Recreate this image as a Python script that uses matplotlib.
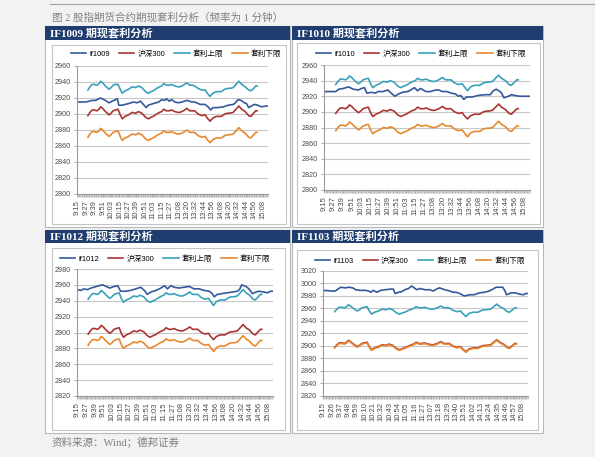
import matplotlib
matplotlib.use('Agg')
import matplotlib.pyplot as plt
from matplotlib.patches import Rectangle
from matplotlib.lines import Line2D

W, H = 595, 457

# x tick labels (1-minute bars, labelled every 12 / 11 bars)
ticks_12 = ['9:15', '9:27', '9:39', '9:51', '10:03', '10:15', '10:27', '10:39', '10:51',
            '11:03', '11:15', '11:27', '13:08', '13:20', '13:32', '13:44', '13:56',
            '14:08', '14:20', '14:32', '14:44', '14:56', '15:08']
ticks_11 = ['9:15', '9:26', '9:37', '9:48', '9:59', '10:10', '10:21', '10:32', '10:43',
            '10:54', '11:05', '11:16', '11:27', '13:07', '13:18', '13:29', '13:40',
            '13:51', '14:02', '14:13', '14:24', '14:35', '14:46', '14:57', '15:08']
n_bars = 272

# CSI 300 index (same for every contract) and the arbitrage bounds, sampled by bar index
hs_idx = [15, 18, 21, 24, 28, 31, 33, 36, 40, 45, 48, 51, 54, 58, 61, 64, 68, 73, 78, 83,
          87, 92, 97, 101, 105, 108, 113, 117, 120, 123, 127, 131, 134, 139, 143, 146, 151,
          156, 160, 164, 167, 172, 177, 182, 185, 189, 193, 198, 205, 210, 214, 217, 222,
          226, 230, 234, 239, 244, 247, 250, 254, 256]
hs300 = [2898, 2902, 2905, 2905, 2904, 2906, 2909, 2907, 2903, 2899, 2901, 2904, 2905, 2906,
         2899, 2894, 2897, 2899, 2902, 2901, 2903, 2901, 2896, 2894, 2896, 2897, 2900, 2902,
         2903, 2906, 2904, 2904, 2905, 2903, 2902, 2902, 2904, 2907, 2904, 2904, 2904, 2900,
         2898, 2899, 2895, 2891, 2895, 2897, 2897, 2900, 2901, 2901, 2902, 2906, 2910, 2906,
         2903, 2898, 2897, 2900, 2904, 2904]

up_1009 = [2930, 2934, 2937, 2937, 2936, 2938, 2941, 2939, 2935, 2931, 2933, 2936, 2937, 2937,
           2931, 2926, 2929, 2931, 2934, 2933, 2935, 2933, 2928, 2926, 2928, 2929, 2932, 2934,
           2935, 2938, 2936, 2936, 2937, 2935, 2934, 2934, 2936, 2939, 2936, 2936, 2935, 2932,
           2930, 2930, 2926, 2922, 2926, 2928, 2928, 2931, 2932, 2932, 2933, 2937, 2941, 2937,
           2934, 2930, 2929, 2931, 2935, 2935]
lo_1009 = [2871, 2875, 2878, 2878, 2877, 2879, 2882, 2880, 2876, 2872, 2874, 2877, 2878, 2879,
           2872, 2867, 2870, 2872, 2875, 2874, 2876, 2874, 2869, 2867, 2869, 2870, 2873, 2875,
           2876, 2879, 2877, 2877, 2878, 2876, 2875, 2875, 2877, 2880, 2877, 2877, 2877, 2873,
           2871, 2872, 2868, 2864, 2868, 2870, 2870, 2873, 2874, 2874, 2875, 2879, 2883, 2879,
           2876, 2871, 2870, 2873, 2877, 2877]
up_1010 = [2935, 2939, 2942, 2942, 2941, 2943, 2946, 2944, 2940, 2936, 2938, 2941, 2942, 2943,
           2936, 2931, 2934, 2936, 2939, 2938, 2940, 2938, 2933, 2931, 2933, 2934, 2937, 2939,
           2940, 2943, 2941, 2941, 2942, 2940, 2939, 2939, 2941, 2944, 2941, 2941, 2941, 2937,
           2935, 2936, 2932, 2927, 2932, 2934, 2934, 2937, 2938, 2938, 2939, 2943, 2947, 2943,
           2940, 2935, 2934, 2937, 2941, 2941]
lo_1010 = [2876, 2880, 2883, 2883, 2882, 2884, 2887, 2885, 2881, 2877, 2879, 2882, 2883, 2884,
           2877, 2872, 2875, 2877, 2880, 2879, 2881, 2879, 2874, 2872, 2874, 2875, 2878, 2880,
           2881, 2884, 2882, 2882, 2883, 2881, 2880, 2880, 2882, 2885, 2882, 2882, 2882, 2878,
           2876, 2877, 2873, 2868, 2873, 2875, 2875, 2878, 2879, 2879, 2880, 2884, 2888, 2884,
           2881, 2876, 2875, 2878, 2882, 2882]
up_1012 = [2942, 2946, 2949, 2949, 2948, 2950, 2953, 2951, 2947, 2943, 2945, 2948, 2949, 2950,
           2943, 2938, 2941, 2943, 2946, 2945, 2947, 2945, 2940, 2938, 2940, 2941, 2944, 2946,
           2947, 2950, 2948, 2948, 2949, 2947, 2946, 2946, 2948, 2951, 2948, 2948, 2948, 2944,
           2942, 2943, 2939, 2934, 2939, 2941, 2941, 2944, 2945, 2945, 2946, 2950, 2954, 2950,
           2947, 2942, 2941, 2944, 2948, 2948]
lo_1012 = [2884, 2888, 2891, 2891, 2890, 2892, 2895, 2893, 2889, 2885, 2887, 2890, 2891, 2892,
           2885, 2880, 2883, 2885, 2888, 2887, 2889, 2887, 2882, 2880, 2882, 2883, 2886, 2888,
           2889, 2892, 2890, 2890, 2891, 2889, 2888, 2888, 2890, 2893, 2890, 2890, 2890, 2886,
           2884, 2885, 2881, 2876, 2881, 2883, 2883, 2886, 2887, 2887, 2888, 2892, 2896, 2892,
           2889, 2884, 2883, 2886, 2890, 2890]
up_1103 = [2955, 2959, 2962, 2962, 2961, 2963, 2966, 2964, 2960, 2956, 2958, 2961, 2962, 2963,
           2956, 2951, 2954, 2956, 2959, 2958, 2960, 2958, 2953, 2951, 2953, 2954, 2957, 2959,
           2960, 2963, 2961, 2961, 2962, 2960, 2959, 2959, 2961, 2964, 2961, 2961, 2961, 2957,
           2955, 2956, 2952, 2947, 2952, 2954, 2954, 2957, 2958, 2958, 2959, 2963, 2967, 2963,
           2960, 2955, 2954, 2957, 2961, 2961]
lo_1103 = [2897, 2901, 2904, 2904, 2903, 2905, 2908, 2906, 2902, 2898, 2900, 2903, 2904, 2905,
           2898, 2893, 2896, 2898, 2901, 2900, 2902, 2900, 2895, 2893, 2895, 2896, 2899, 2901,
           2902, 2905, 2903, 2903, 2904, 2902, 2901, 2901, 2903, 2906, 2903, 2903, 2903, 2899,
           2897, 2898, 2894, 2890, 2894, 2896, 2896, 2899, 2900, 2900, 2901, 2905, 2909, 2905,
           2902, 2897, 2896, 2899, 2903, 2903]

# futures prices
if1009_idx = [0, 7, 12, 17, 21, 26, 33, 40, 45, 52, 57, 59, 64, 68, 73, 80, 85, 90, 94, 98,
              101, 108, 116, 120, 124, 127, 131, 134, 139, 144, 149, 156, 163, 167, 175, 182,
              186, 190, 193, 200, 208, 215, 222, 224, 229, 233, 238, 241, 244, 248, 252, 257,
              262, 269, 271]
if1009 = [2915, 2915, 2915, 2916, 2917, 2917, 2920, 2917, 2914, 2917, 2919, 2911, 2911, 2912,
          2913, 2915, 2914, 2916, 2912, 2908, 2911, 2913, 2915, 2918, 2917, 2919, 2916, 2918,
          2915, 2914, 2915, 2917, 2915, 2915, 2912, 2912, 2909, 2905, 2908, 2908, 2909, 2911,
          2912, 2913, 2918, 2917, 2914, 2913, 2908, 2910, 2912, 2911, 2909, 2910, 2910]
if1010_idx = [0, 8, 15, 19, 25, 32, 38, 45, 49, 53, 56, 62, 67, 71, 77, 84, 87, 93, 98, 103,
              110, 114, 119, 123, 127, 134, 140, 147, 151, 156, 162, 167, 173, 177, 180, 184,
              188, 195, 203, 212, 219, 223, 227, 232, 234, 237, 243, 247, 251, 258, 266, 271]
if1010 = [2926, 2926, 2926, 2929, 2930, 2932, 2929, 2928, 2930, 2931, 2924, 2925, 2924, 2926,
          2926, 2928, 2925, 2920, 2923, 2925, 2926, 2928, 2931, 2927, 2930, 2926, 2926, 2928,
          2928, 2926, 2926, 2924, 2923, 2920, 2921, 2916, 2919, 2919, 2921, 2922, 2922, 2927,
          2929, 2926, 2924, 2918, 2920, 2922, 2921, 2920, 2920, 2920]
if1012_idx = [0, 5, 9, 14, 19, 23, 30, 35, 40, 45, 51, 56, 60, 67, 74, 81, 88, 94, 97, 102,
              109, 116, 121, 125, 130, 134, 141, 148, 155, 162, 169, 176, 183, 187, 190, 194,
              201, 208, 215, 222, 225, 228, 234, 238, 243, 248, 252, 259, 264, 268, 271]
if1012 = [2954, 2953, 2955, 2954, 2956, 2957, 2959, 2960, 2958, 2956, 2958, 2959, 2952, 2952,
          2953, 2955, 2957, 2952, 2948, 2951, 2953, 2956, 2959, 2955, 2959, 2957, 2956, 2957,
          2958, 2955, 2955, 2953, 2952, 2949, 2945, 2948, 2949, 2950, 2951, 2952, 2954, 2960,
          2958, 2955, 2949, 2951, 2952, 2951, 2950, 2952, 2952]
if1103_idx = [0, 3, 10, 16, 18, 23, 29, 34, 39, 43, 49, 56, 60, 63, 66, 71, 76, 82, 89, 93,
              95, 100, 104, 108, 113, 117, 124, 128, 135, 141, 146, 150, 154, 161, 168, 172,
              176, 181, 187, 194, 200, 207, 214, 220, 225, 229, 238, 241, 243, 249, 255, 260,
              266, 268, 271]
if1103 = [2988, 2989, 2988, 2988, 2990, 2994, 2993, 2994, 2993, 2990, 2989, 2989, 2988, 2986,
          2989, 2986, 2989, 2990, 2991, 2991, 2984, 2986, 2987, 2990, 2992, 2996, 2990, 2992,
          2990, 2990, 2988, 2991, 2993, 2990, 2988, 2986, 2986, 2984, 2980, 2982, 2982, 2985,
          2986, 2988, 2991, 2994, 2994, 2988, 2982, 2985, 2985, 2983, 2982, 2984, 2984]

C_IF, C_HS, C_UP, C_LO = '#33599b', '#a93532', '#3ba0bb', '#e8882f'
NAVY = '#1f3d6e'
BG = '#f2f2f2'
SERIF_CJK = ['Liberation Serif', 'Noto Sans CJK SC']

plt.rcParams['font.family'] = ['Liberation Sans', 'Noto Sans CJK SC']


def minute_index(t):
  h, m = map(int, t.split(':'))
  mins = h * 60 + m
  if mins <= 11 * 60 + 30:
    return mins - (9 * 60 + 15)
  return 136 + mins - 13 * 60


def fig_box(x0, y0, x1, y1):
  return [x0 / W, 1 - y1 / H, (x1 - x0) / W, (y1 - y0) / H]


fig = plt.figure(figsize=(W / 100, H / 100), dpi=100, facecolor=BG)


def rect(x0, y0, x1, y1, **kw):
  fig.patches.append(Rectangle((x0 / W, 1 - y1 / H), (x1 - x0) / W, (y1 - y0) / H,
                               transform=fig.transFigure, figure=fig, zorder=-5, **kw))


fig.add_artist(Line2D([50 / W, 1], [1 - 4 / H] * 2, color='#a0a0a0', lw=0.8))
fig.text(52 / W, 1 - 17 / H, '图 2 股指期货合约期现套利分析（频率为 1 分钟）',
         family=SERIF_CJK, fontsize=7.6, color='#7f7f7f', va='center')
fig.text(52 / W, 1 - 442 / H, '资料来源：Wind；德邦证券',
         family=SERIF_CJK, fontsize=7.6, color='#7f7f7f', va='center')

charts = [
  dict(name='IF1009', label='if1009', x=if1009_idx, y=if1009, up=up_1009, lo=lo_1009,
       ylim=(2800, 2960), ticks=ticks_12, panel=(45, 290, 26, 40, 227),
       frame=(52, 45, 286, 224), plot=(77, 66, 268, 194), leg=(176, 54)),
  dict(name='IF1010', label='if1010', x=if1010_idx, y=if1010, up=up_1010, lo=lo_1010,
       ylim=(2800, 2960), ticks=ticks_12, panel=(292, 543, 26, 40, 227),
       frame=(297, 43, 540, 224), plot=(324, 65, 530, 190), leg=(421, 54)),
  dict(name='IF1012', label='if1012', x=if1012_idx, y=if1012, up=up_1012, lo=lo_1012,
       ylim=(2820, 2980), ticks=ticks_12, panel=(45, 290, 230, 243, 433),
       frame=(52, 248, 285, 430), plot=(77, 269, 273, 396), leg=(165, 259)),
  dict(name='IF1103', label='if1103', x=if1103_idx, y=if1103, up=up_1103, lo=lo_1103,
       ylim=(2820, 3020), ticks=ticks_11, panel=(292, 543, 230, 243, 433),
       frame=(297, 250, 538, 430), plot=(323, 271, 528, 396), leg=(420, 261)),
]

for ch in charts:
  px0, px1, hy0, hy1, py1 = ch['panel']
  rect(px0, hy0, px1, py1, facecolor='white', edgecolor='#b8b8b8', lw=0.8)
  rect(px0, hy0, px1, hy1, facecolor=NAVY, edgecolor='none')
  fig.text((px0 + 5) / W, 1 - (hy0 + hy1) / 2 / H, ch['name'] + ' 期现套利分析',
           family=SERIF_CJK, fontsize=8, fontweight='bold', color='white', va='center')
  fx0, fy0, fx1, fy1 = ch['frame']
  rect(fx0, fy0, fx1, fy1, facecolor='white', edgecolor='#c4c4c4', lw=0.8)

  ax = fig.add_axes(fig_box(*ch['plot']))
  ax.set_facecolor('white')
  ax.plot(ch['x'], ch['y'], color=C_IF, lw=1.2, label=ch['label'])
  ax.plot(hs_idx, hs300, color=C_HS, lw=1.2, label='沪深300')
  ax.plot(hs_idx, ch['up'], color=C_UP, lw=1.2, label='套利上限')
  ax.plot(hs_idx, ch['lo'], color=C_LO, lw=1.2, label='套利下限')

  lo_v, hi_v = ch['ylim']
  ax.set_ylim(lo_v, hi_v)
  ax.set_yticks(range(lo_v, hi_v + 1, 20))
  ax.set_xlim(-0.5, n_bars - 0.5)
  ax.set_xticks([minute_index(t) for t in ch['ticks']])
  ax.set_xticklabels(ch['ticks'], rotation=90)
  ax.set_xticks(range(n_bars), minor=True)
  ax.grid(axis='y', color='#c8c8c8', lw=0.8)
  ax.set_axisbelow(True)
  for side in ['top', 'right']:
    ax.spines[side].set_visible(False)
  for side in ['left', 'bottom']:
    ax.spines[side].set_color('#9a9a9a')
    ax.spines[side].set_linewidth(0.8)
  ax.tick_params(axis='both', colors='#9a9a9a', labelcolor='#4a4a4a',
                 length=2.5, width=0.6, pad=2)
  ax.tick_params(axis='y', labelsize=5.2)
  ax.tick_params(axis='x', labelsize=5.5)
  ax.tick_params(axis='x', which='minor', length=2.5, width=0.4, colors='#a8a8a8')

  lx, ly = ch['leg']
  ax.legend(loc='center', bbox_to_anchor=(lx / W, 1 - ly / H), bbox_transform=fig.transFigure,
            ncol=4, frameon=False, fontsize=5.5, handlelength=2.0, handletextpad=0.4,
            columnspacing=1.2, borderaxespad=0)

fig.savefig('out.png', dpi=100, facecolor=BG)
